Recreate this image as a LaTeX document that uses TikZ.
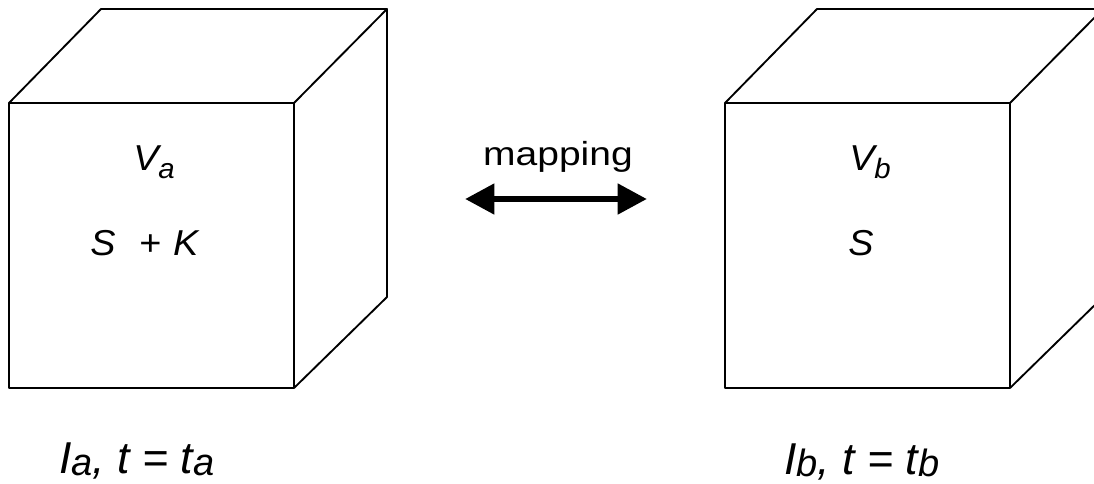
\documentclass[tikz,border=0pt]{standalone}
\usepackage{fontspec}
\setmainfont{Liberation Sans}
\usetikzlibrary{arrows.meta}
\newcommand{\topsub}[1]{\raisebox{-6.5pt}{\fontsize{21}{21}\selectfont\itshape #1}}
\newcommand{\botsub}[1]{\raisebox{-1.5pt}{\fontsize{28.5}{28.5}\selectfont\itshape #1}}
\newcommand{\wide}[1]{\scalebox{1.05}[1]{#1}}
\begin{document}
\begin{tikzpicture}[x=0.75pt,y=-0.75pt,
  edge/.style={line width=1.4pt,line join=round,black},
  toplbl/.style={font=\fontsize{27}{27}\selectfont\itshape,inner sep=0pt,anchor=base west},
  botlbl/.style={font=\fontsize{33.5}{33.5}\selectfont\itshape,inner sep=0pt,anchor=base west},
  maplbl/.style={font=\fontsize{25}{25}\selectfont,inner sep=0pt,anchor=base}]
\useasboundingbox (0,0) rectangle (1094,483);
\clip (0,0) rectangle (1094,483);
% cube A
\draw[edge] (9,103) rectangle (294,388);
\draw[edge] (9,103) -- (101,9) -- (387,9) -- (294,103);
\draw[edge] (387,9) -- (387,297) -- (294,388);
% cube B
\draw[edge] (725,103) rectangle (1010,388);
\draw[edge] (725,103) -- (817,9) -- (1103,9) -- (1010,103);
\draw[edge] (1103,9) -- (1103,297) -- (1010,388);
% labels
\node[toplbl] (va) at (133,170) {\wide{V\topsub{a}}};
\node[toplbl] (sk) at (90,255) {\wide{S\hspace{0.62em}+\hspace{0.32em}K}};
\node[toplbl] (vb) at (849,170) {\wide{V\topsub{b}}};
\node[toplbl] (sb) at (848,255) {\wide{S}};
\node[botlbl] (la) at (59,473) {I\botsub{a}, t = t\botsub{a}};
\node[botlbl] (lb) at (784,474) {I\botsub{b}, t = t\botsub{b}};
\node[maplbl] (map) at (558,165) {\scalebox{1.17}[1]{mapping}};
\coordinate (al) at (465,199);
\coordinate (ar) at (647,199);
\draw[line width=5pt,{Triangle[length=22pt,width=22pt]}-{Triangle[length=22pt,width=22pt]}] (al) -- (ar);
\end{tikzpicture}
\end{document}
